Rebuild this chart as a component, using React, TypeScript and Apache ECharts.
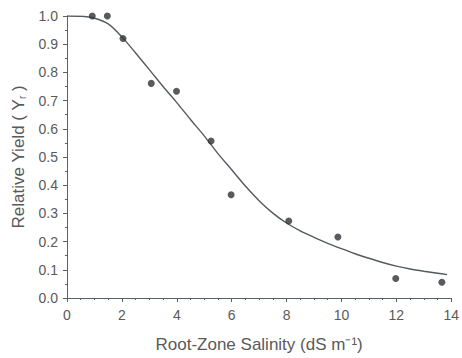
import React, { useEffect, useRef } from "react";
import * as echarts from "echarts";

// Observed data points (salinity dS/m, relative yield)
const obsX = [0.92, 1.47, 2.04, 3.07, 3.99, 5.25, 5.98, 8.08, 9.87, 11.98, 13.66];
const obsY = [1.0, 1.0, 0.92, 0.761, 0.733, 0.557, 0.366, 0.273, 0.216, 0.069, 0.056];

// Fitted curve
const curveX = [0, 0.5, 1.0, 1.5, 2.0, 2.5, 3.0, 3.5, 4.0, 4.5, 5.0, 5.5, 6.0, 6.5, 7.0, 7.5, 8.0, 8.5, 9.0, 9.5, 10.0, 10.5, 11.0, 11.5, 12.0, 12.5, 13.0, 13.5, 13.85];
const curveY = [1.0, 0.999, 0.992, 0.972, 0.926, 0.869, 0.81, 0.75, 0.693, 0.633, 0.575, 0.512, 0.455, 0.397, 0.345, 0.301, 0.266, 0.238, 0.215, 0.194, 0.175, 0.157, 0.141, 0.126, 0.113, 0.103, 0.095, 0.088, 0.083];

const xTitle = "Root-Zone Salinity (dS m⁻¹)";
const yTitle = "Relative Yield ( Y{sub|r} )";

export default function App() {
  const ref = useRef<HTMLDivElement>(null);
  useEffect(() => {
    document.body.style.margin = "0";
    const chart = echarts.init(ref.current!, null, { renderer: "svg" });
    const font = "Liberation Sans, Arial, sans-serif";
    const axisColor = "#5a6068";
    const labelColor = "#5a5a5a";
    chart.setOption({
      animation: false,
      backgroundColor: "#fff",
      grid: { left: 67, right: 5, top: 16, bottom: 56, containLabel: false },
      xAxis: {
        type: "value",
        min: 0,
        max: 14,
        interval: 2,
        name: xTitle,
        nameLocation: "middle",
        nameGap: 38,
        nameTextStyle: { fontFamily: font, fontSize: 17, color: labelColor },
        axisLine: { show: true, lineStyle: { color: axisColor, width: 1 } },
        axisTick: { show: true, inside: false, length: 4, lineStyle: { color: axisColor } },
        minorTick: { show: true, splitNumber: 4, length: 2, lineStyle: { color: axisColor } },
        axisLabel: { fontFamily: font, fontSize: 14, color: labelColor, margin: 10 },
        splitLine: { show: false },
      },
      yAxis: {
        type: "value",
        min: 0,
        max: 1,
        interval: 0.1,
        name: yTitle,
        nameLocation: "middle",
        nameGap: 39,
        nameRotate: 90,
        nameTextStyle: {
          fontFamily: font,
          fontSize: 17,
          color: labelColor,
          rich: {
            sub: { fontFamily: font, fontSize: 10, color: labelColor, verticalAlign: "bottom", padding: [8, 0, 0, 0] },
          },
        },
        axisLine: { show: true, lineStyle: { color: axisColor, width: 1 } },
        axisTick: { show: true, inside: false, length: 4, lineStyle: { color: axisColor } },
        minorTick: { show: true, splitNumber: 2, length: 2, lineStyle: { color: axisColor } },
        axisLabel: {
          fontFamily: font,
          fontSize: 14,
          color: labelColor,
          margin: 9,
          formatter: (v: number) => v.toFixed(1),
        },
        splitLine: { show: false },
      },
      series: [
        {
          type: "line",
          data: curveX.map((x, i) => [x, curveY[i]]),
          smooth: 0.3,
          showSymbol: false,
          lineStyle: { color: "#555a60", width: 1.4 },
          z: 2,
        },
        {
          type: "scatter",
          data: obsX.map((x, i) => [x, obsY[i]]),
          symbol: "circle",
          symbolSize: 7,
          itemStyle: { color: "#2f3236" },
          z: 3,
        },
      ],
    });
    return () => chart.dispose();
  }, []);
  return <div ref={ref} style={{ width: 462, height: 358 }} />;
}
